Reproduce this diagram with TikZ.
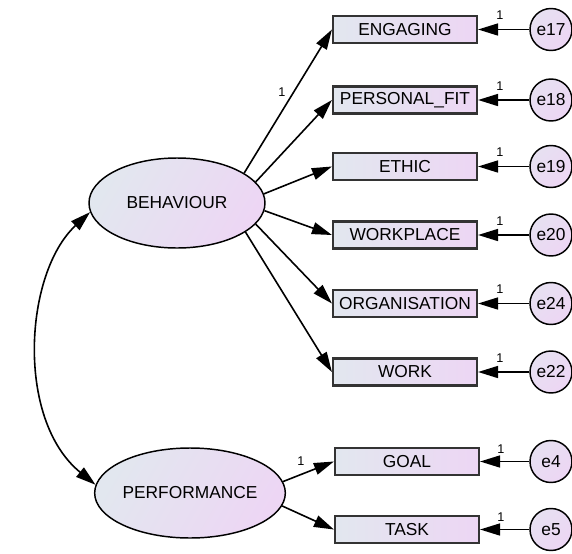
\documentclass[tikz,border=0pt]{standalone}
\usepackage{fontspec}
\setmainfont{Liberation Sans}
\usetikzlibrary{arrows.meta,shapes.geometric}
\definecolor{shadeA}{RGB}{226,231,239}
\definecolor{shadeB}{RGB}{237,214,244}
\begin{document}
\begin{tikzpicture}[x=0.75pt,y=-0.75pt,
  obsbox/.style={rectangle, draw=black!80, line width=1.6pt, minimum width=108pt,
    minimum height=20.25pt, inner sep=0pt, left color=shadeA, right color=shadeB,
    font=\fontsize{13}{15}\selectfont},
  latent/.style={ellipse, draw=black, line width=1.1pt, minimum width=132pt,
    minimum height=67.5pt, inner sep=0pt, top color=shadeA, bottom color=shadeB,
    shading angle=60, font=\fontsize{13}{15}\selectfont},
  errnode/.style={circle, draw=black, line width=1.1pt, minimum size=31.5pt, inner sep=0pt,
    top color=shadeA!60!shadeB, bottom color=shadeB, shading angle=45,
    font=\fontsize{13}{15}\selectfont},
  regpath/.style={line width=1.2pt, -{Triangle[length=15pt,width=9pt]}},
  onelabel/.style={font=\fontsize{9.5}{11}\selectfont, inner sep=0pt}
]
\useasboundingbox (0,0) rectangle (572,554);

% latent variables
\node[latent] (beh)  at (177,203) {BEHAVIOUR};
\node[latent] (perf) at (190,493) {PERFORMANCE};

% observed indicators
\node[obsbox] (engaging) at (405,29.5)  {ENGAGING};
\node[obsbox] (personal) at (405,100)   {PERSONAL\_FIT};
\node[obsbox] (ethic)    at (405,166.5) {ETHIC};
\node[obsbox] (workpl)   at (405,235)   {WORKPLACE};
\node[obsbox] (organ)    at (405,303.5) {ORGANISATION};
\node[obsbox] (work)     at (405,372)   {WORK};
\node[obsbox] (goal)     at (407,461.5) {GOAL};
\node[obsbox] (task)     at (407,529.5) {TASK};

% error terms
\node[errnode] (e17) at (551,29.5)  {e17};
\node[errnode] (e18) at (551,100)   {e18};
\node[errnode] (e19) at (551,166.5) {e19};
\node[errnode] (e20) at (551,235)   {e20};
\node[errnode] (e24) at (551,303.5) {e24};
\node[errnode] (e22) at (551,372)   {e22};
\node[errnode] (e4)  at (551,461.5) {e4};
\node[errnode] (e5)  at (551,529.5) {e5};

% loadings
\draw[regpath] (beh.24)  -- (engaging.west);
\draw[regpath] (beh.15)  -- (personal.west);
\draw[regpath] (beh.6)   -- (ethic.west);
\draw[regpath] (beh.-5)  -- (workpl.west);
\draw[regpath] (beh.-15) -- (organ.west);
\draw[regpath] (beh.-23) -- (work.west);
\draw[regpath] (perf.7)  -- (goal.west);
\draw[regpath] (perf.-8) -- (task.west);

% error paths
\foreach \e/\o in {e17/engaging,e18/personal,e19/ethic,e20/workpl,e24/organ,e22/work,e4/goal,e5/task}
  \draw[regpath] (\e.west) -- (\o.east);

% covariance
\draw[line width=1.2pt, {Triangle[length=15pt,width=9pt]}-{Triangle[length=15pt,width=9pt]}]
  (beh.186) .. controls +(-66,61) and +(-80,-65) .. (perf.175);

% fixed parameter labels
\node[onelabel] (l0) at (282,92)  {1};
\node[onelabel] (l9) at (301,461) {1};
\node[onelabel] (l1) at (500,15.5)  {1};
\node[onelabel] (l2) at (500,86)    {1};
\node[onelabel] (l3) at (500,152.5) {1};
\node[onelabel] (l4) at (500,221)   {1};
\node[onelabel] (l5) at (500,289.5) {1};
\node[onelabel] (l6) at (500,358)   {1};
\node[onelabel] (l7) at (501,449)   {1};
\node[onelabel] (l8) at (501,517)   {1};
\end{tikzpicture}
\end{document}
